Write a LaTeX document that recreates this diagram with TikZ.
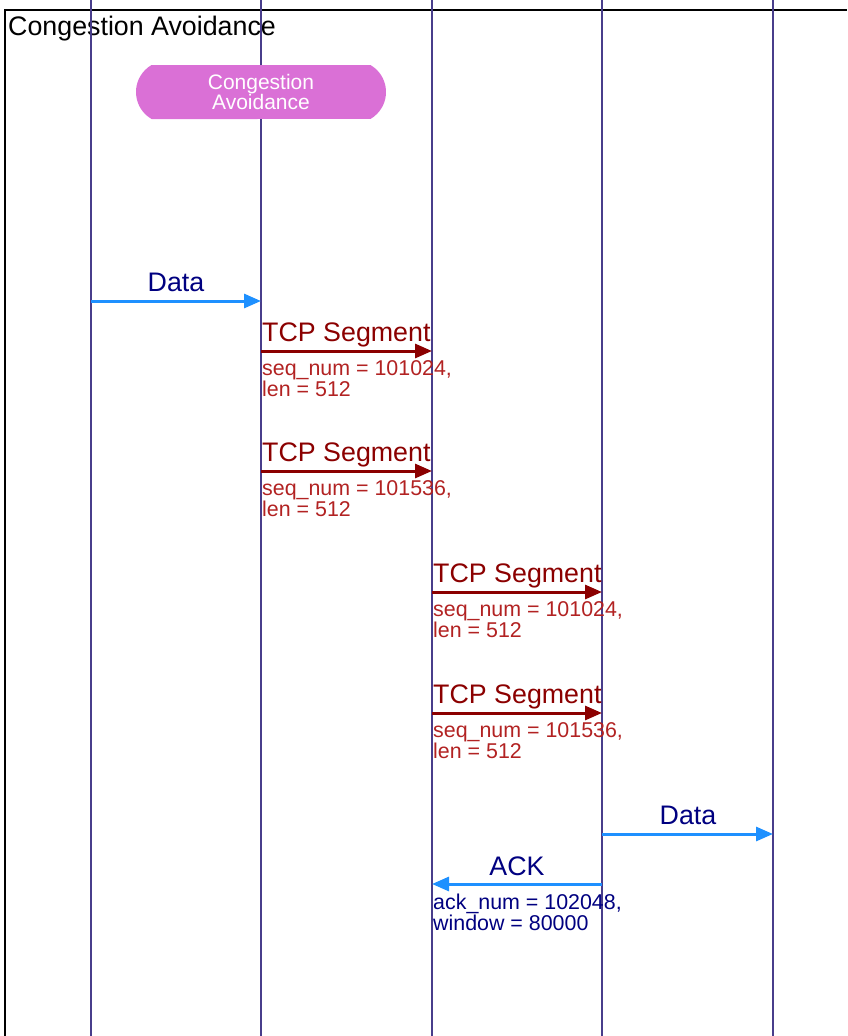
\documentclass[tikz,border=0pt]{standalone}
\usepackage{fontspec}
\setmainfont{Liberation Sans}
\usepackage{tikz}
\usetikzlibrary{arrows.meta}
\usetikzlibrary{shapes.misc}
\usepackage{xcolor}
\definecolor{ColLife}{RGB}{72,61,139}
\definecolor{ColData}{RGB}{30,144,255}
\definecolor{ColNavy}{RGB}{0,0,128}
\definecolor{ColSeg}{RGB}{139,0,0}
\definecolor{ColSegTxt}{RGB}{178,34,34}
\definecolor{ColState}{RGB}{218,112,214}
\tikzstyle{LifeLine}=[ColLife,line width=2pt]
\tikzstyle{FrameLine}=[black,line width=2pt]
\tikzstyle{MsgData}=[ColData,line width=3pt,-{Triangle[length=17pt,width=14pt]}]
\tikzstyle{MsgSeg}=[ColSeg,line width=3pt,-{Triangle[length=17pt,width=14pt]}]
\tikzstyle{LabelMain}=[inner sep=0pt,font=\fontsize{26.8}{27}\selectfont]
\tikzstyle{LabelSub}=[inner sep=0pt,anchor=base west,font=\fontsize{21.4}{20.5}\selectfont]
\tikzstyle{StateBox}=[rounded rectangle,rounded rectangle arc length=120,fill=ColState,
text=white,minimum width=250pt,minimum height=54pt,inner sep=0pt,align=center,
font=\fontsize{21}{20}\selectfont]
\begin{document}
\begin{tikzpicture}[x=1pt,y=-1pt]
        \useasboundingbox (0,0) rectangle (847,1036);
        \coordinate (fb) at (5,1036);
        \coordinate (fr) at (847,10);
        \draw[FrameLine](fb)|-(fr);
        \node[LabelMain,anchor=base west](title)at(8,35){Congestion Avoidance};
        \coordinate (A0) at (91,0);
        \coordinate (A1) at (91,1036);
        \coordinate (B0) at (261,0);
        \coordinate (B1) at (261,1036);
        \coordinate (C0) at (432,0);
        \coordinate (C1) at (432,1036);
        \coordinate (D0) at (602,0);
        \coordinate (D1) at (602,1036);
        \coordinate (E0) at (773,0);
        \coordinate (E1) at (773,1036);
        \draw[LifeLine](A0)--(A1);
        \draw[LifeLine](B0)--(B1);
        \draw[LifeLine](C0)--(C1);
        \draw[LifeLine](D0)--(D1);
        \draw[LifeLine](E0)--(E1);
        \node[StateBox](state)at(261,92){Congestion\\Avoidance};
        % data in
        \coordinate (m1a) at (91,301);
        \coordinate (m1b) at (261,301);
        \draw[MsgData](m1a)--(m1b);
        \node[LabelMain,anchor=base,ColNavy](l1)at(176,291){Data};
        % segments B -> C
        \coordinate (m2a) at (261,351);
        \coordinate (m2b) at (432,351);
        \draw[MsgSeg](m2a)--(m2b);
        \node[LabelMain,anchor=base west,ColSeg](l2)at(262,341){TCP Segment};
        \node[LabelSub,ColSegTxt](s2)at(262,375){\begin{tabular}[t]{@{}l@{}}seq\_num = 101024,\\len = 512\end{tabular}};
        \coordinate (m3a) at (261,471);
        \coordinate (m3b) at (432,471);
        \draw[MsgSeg](m3a)--(m3b);
        \node[LabelMain,anchor=base west,ColSeg](l3)at(262,461){TCP Segment};
        \node[LabelSub,ColSegTxt](s3)at(262,495){\begin{tabular}[t]{@{}l@{}}seq\_num = 101536,\\len = 512\end{tabular}};
        % segments C -> D
        \coordinate (m4a) at (432,592);
        \coordinate (m4b) at (602,592);
        \draw[MsgSeg](m4a)--(m4b);
        \node[LabelMain,anchor=base west,ColSeg](l4)at(433,582){TCP Segment};
        \node[LabelSub,ColSegTxt](s4)at(433,616){\begin{tabular}[t]{@{}l@{}}seq\_num = 101024,\\len = 512\end{tabular}};
        \coordinate (m5a) at (432,713);
        \coordinate (m5b) at (602,713);
        \draw[MsgSeg](m5a)--(m5b);
        \node[LabelMain,anchor=base west,ColSeg](l5)at(433,703){TCP Segment};
        \node[LabelSub,ColSegTxt](s5)at(433,737){\begin{tabular}[t]{@{}l@{}}seq\_num = 101536,\\len = 512\end{tabular}};
        % data out and ack
        \coordinate (m6a) at (602,834);
        \coordinate (m6b) at (773,834);
        \draw[MsgData](m6a)--(m6b);
        \node[LabelMain,anchor=base,ColNavy](l6)at(688,824){Data};
        \coordinate (m7a) at (602,884);
        \coordinate (m7b) at (432,884);
        \draw[MsgData](m7a)--(m7b);
        \node[LabelMain,anchor=base,ColNavy](l7)at(517,875){ACK};
        \node[LabelSub,ColNavy](s7)at(433,909){\begin{tabular}[t]{@{}l@{}}ack\_num = 102048,\\window = 80000\end{tabular}};
    \end{tikzpicture}
\end{document}
